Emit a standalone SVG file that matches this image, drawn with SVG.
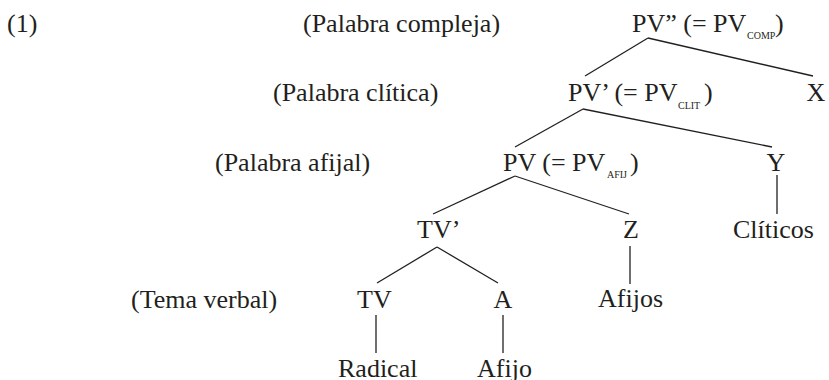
<svg xmlns="http://www.w3.org/2000/svg" width="829" height="380" viewBox="0 0 829 380">
  <style>
    text { font-family: "Liberation Serif", "Times New Roman", serif; font-size: 26px; fill: #231f20; }
    .sub { font-size: 10px; }
    .mid { text-anchor: middle; }
    .edge { stroke: #231f20; stroke-width: 1.3; fill: none; }
  </style>
  <rect width="829" height="380" fill="#ffffff"/>

  <!-- example number and level labels -->
  <g id="labels">
    <text x="7" y="32">(1)</text>
    <text x="303" y="32">(Palabra compleja)</text>
    <text x="273" y="101">(Palabra clítica)</text>
    <text x="215" y="171">(Palabra afijal)</text>
    <text x="131" y="308">(Tema verbal)</text>
  </g>

  <!-- connectors -->
  <g id="connectors" class="edge">
    <line x1="648" y1="38" x2="585" y2="76"/>
    <line x1="648" y1="38" x2="813" y2="76"/>
    <line x1="583" y1="109" x2="515" y2="147"/>
    <line x1="583" y1="109" x2="772" y2="147"/>
    <line x1="515" y1="176" x2="433" y2="214"/>
    <line x1="515" y1="176" x2="629" y2="214"/>
    <line x1="437" y1="247" x2="377" y2="283"/>
    <line x1="437" y1="247" x2="498" y2="283"/>
    <line x1="376" y1="315" x2="376" y2="353"/>
    <line x1="503" y1="315" x2="503" y2="353"/>
    <line x1="630" y1="246" x2="630" y2="284"/>
    <line x1="777" y1="175" x2="777" y2="214"/>
  </g>

  <!-- tree nodes -->
  <g id="pv-comp">
    <text x="632" y="32">PV” (= PV<tspan class="sub" x="747" y="39">COMP</tspan><tspan x="775" y="32">)</tspan></text>
  </g>
  <g id="x">
    <text x="816" y="101" class="mid">X</text>
  </g>
  <g id="pv-clit">
    <text x="568" y="101">PV’ (= PV<tspan class="sub" x="678" y="109">CLIT</tspan><tspan x="704" y="101">)</tspan></text>
  </g>
  <g id="pv-afij">
    <text x="503" y="171">PV (= PV<tspan class="sub" x="607" y="178">AFIJ</tspan><tspan x="630" y="171">)</tspan></text>
  </g>
  <g id="y">
    <text x="776" y="171" class="mid">Y</text>
  </g>
  <g id="tv-bar">
    <text x="417" y="238">TV’</text>
  </g>
  <g id="z">
    <text x="631" y="238" class="mid">Z</text>
  </g>
  <g id="cliticos">
    <text x="733" y="238">Clíticos</text>
  </g>
  <g id="tv">
    <text x="357" y="308">TV</text>
  </g>
  <g id="a">
    <text x="503" y="308" class="mid">A</text>
  </g>
  <g id="afijos">
    <text x="598" y="307">Afijos</text>
  </g>
  <g id="radical">
    <text x="338" y="377">Radical</text>
  </g>
  <g id="afijo">
    <text x="477" y="377">Afijo</text>
  </g>
</svg>
